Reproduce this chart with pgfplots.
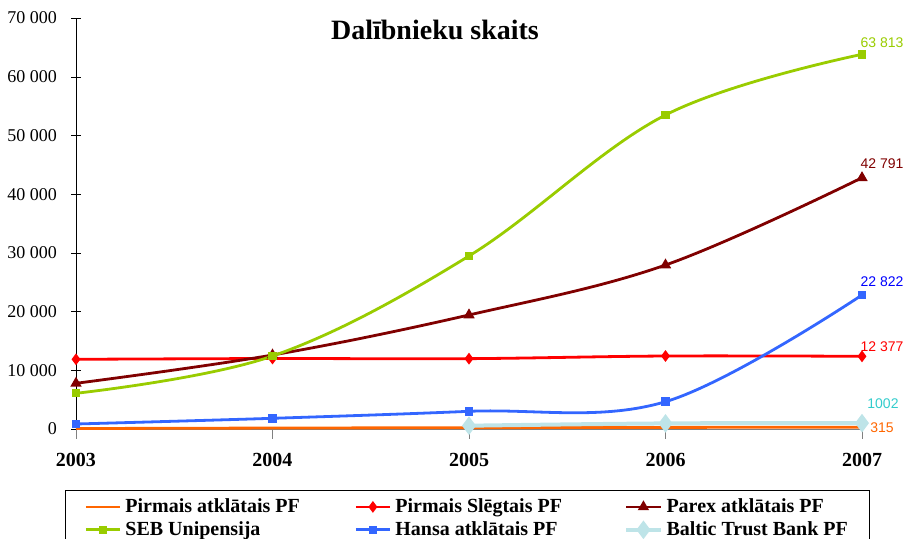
\documentclass[border=0pt]{standalone}
\usepackage{fontspec}
\setmainfont{Liberation Serif}
\newfontfamily\arialfont{Liberation Sans}
\usepackage{pgfplots}
\pgfplotsset{compat=1.18}
\definecolor{porange}{RGB}{255,102,0}
\definecolor{pred}{RGB}{255,0,0}
\definecolor{parex}{RGB}{128,0,0}
\definecolor{seb}{RGB}{153,204,0}
\definecolor{hansa}{RGB}{51,102,255}
\definecolor{baltic}{RGB}{190,228,232}
\definecolor{balticlbl}{RGB}{51,204,204}
\definecolor{hansalbl}{RGB}{0,0,255}

\begin{document}
\begin{tikzpicture}
\path[use as bounding box] (-38pt,-55pt) rectangle (415.5pt,214.5pt);
\clip (-38pt,-55pt) rectangle (415.5pt,214.5pt);
\begin{axis}[
  at={(0,0)}, anchor=south west,
  scale only axis, width=393pt, height=205.5pt,
  xmin=2003, xmax=2007, ymin=0, ymax=70000,
  axis x line=bottom, axis y line=left,
  x axis line style={gray,-}, y axis line style={black,-},
  xtick={2003,2004,2005,2006,2007},
  xticklabels={2003,2004,2005,2006,2007},
  ytick={0,10000,20000,30000,40000,50000,60000,70000},
  yticklabels={0,10 000,20 000,30 000,40 000,50 000,60 000,70 000},
  scaled y ticks=false,
  tick align=center, major tick length=5pt,
  xtick style={gray, yshift=-2.5pt},
  ytick style={black},
  xticklabel style={font=\fontsize{10}{12}\selectfont\bfseries, yshift=-6pt},
  yticklabel style={font=\fontsize{9}{11}\selectfont, xshift=-3.5pt},
  clip=false,
  legend columns=3,
  legend cell align=left,
  legend style={at={(0,0)}, anchor=north west, xshift=-5.5pt, yshift=-30.5pt,
    draw=black, line width=0.5pt, font=\fontsize{10}{11}\selectfont\bfseries,
    inner xsep=9.5pt, inner ysep=2pt, row sep=-1pt},
  every axis plot/.append style={line width=1.4pt, smooth, tension=0.6},
]
% Pirmais atklatais PF
\addplot[porange, no marks] coordinates {(2003,80) (2004,160) (2005,220) (2006,270) (2007,315)};
\addlegendentry{\makebox[112.5pt][l]{Pirmais atklātais PF}}
% Pirmais Slegtais PF
\addplot[pred, mark=diamond*, mark size=1.8pt] coordinates {(2003,11870) (2004,12000) (2005,11980) (2006,12430) (2007,12377)};
\addlegendentry{\makebox[112.5pt][l]{Pirmais Slēgtais PF}}
% Parex atklatais PF
\addplot[parex, mark=triangle*, mark size=1.9pt] coordinates {(2003,7780) (2004,12600) (2005,19420) (2006,27930) (2007,42791)};
\addlegendentry{\makebox[90pt][l]{Parex atklātais PF}}
% SEB Unipensija
\addplot[seb, mark=square*, mark size=1.4pt] coordinates {(2003,6080) (2004,12430) (2005,29470) (2006,53480) (2007,63813)};
\addlegendentry{\makebox[112.5pt][l]{SEB Unipensija}}
% Hansa atklatais PF
\addplot[hansa, mark=square*, mark size=1.4pt] coordinates {(2003,850) (2004,1820) (2005,3010) (2006,4650) (2007,22822)};
\addlegendentry{\makebox[112.5pt][l]{Hansa atklātais PF}}
% Baltic Trust Bank PF
\addplot[baltic, line width=2pt, mark=diamond*, mark size=3pt] coordinates {(2005,560) (2006,950) (2007,1002)};
\addlegendentry{\makebox[90pt][l]{Baltic Trust Bank PF}}

\node[font=\arialfont\fontsize{7}{8}\selectfont, text=seb, xshift=10pt, yshift=6pt] at (axis cs:2007,63813) {63 813};
\node[font=\arialfont\fontsize{7}{8}\selectfont, text=parex, xshift=10pt, yshift=7pt] at (axis cs:2007,42791) {42 791};
\node[font=\arialfont\fontsize{7}{8}\selectfont, text=hansalbl, xshift=10pt, yshift=6.5pt] at (axis cs:2007,22822) {22 822};
\node[font=\arialfont\fontsize{7}{8}\selectfont, text=pred, xshift=10pt, yshift=5pt] at (axis cs:2007,12377) {12 377};
\node[font=\arialfont\fontsize{7}{8}\selectfont, text=balticlbl, xshift=10.5pt, yshift=9.5pt] at (axis cs:2007,1002) {1002};
\node[font=\arialfont\fontsize{7}{8}\selectfont, text=porange, xshift=10pt, yshift=-0.5pt] at (axis cs:2007,315) {315};
\end{axis}
\node[font=\fontsize{14}{16}\selectfont\bfseries] at (179.5pt,199.5pt) {Dalībnieku skaits};
\end{tikzpicture}
\end{document}
